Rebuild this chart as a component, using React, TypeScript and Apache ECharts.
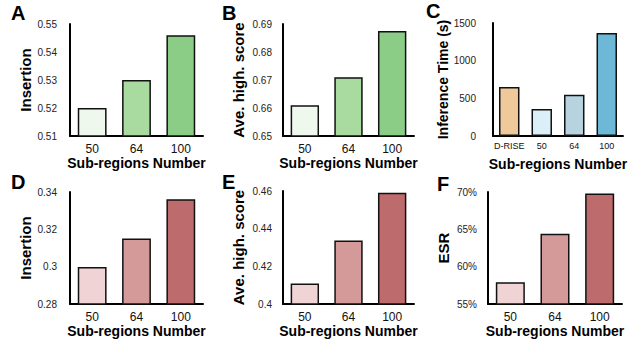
import React, { useEffect, useRef } from "react";
import * as echarts from "echarts";

const subRegions = ["50", "64", "100"];
const timeCategories = ["D-RISE", "50", "64", "100"];

const insertionA = [0.52, 0.53, 0.546];
const aveHighB = [0.661, 0.671, 0.6875];
const inferenceTimeC = [652, 359, 546, 1367];
const insertionD = [0.2998, 0.3151, 0.3361];
const aveHighE = [0.4109, 0.4337, 0.4591];
const esrF = [57.9, 64.4, 69.8];

const greens = ["#EEF8EC", "#A9DBA1", "#8BCD87"];
const reds = ["#F0D3D5", "#D49A99", "#BE6B6D"];
const blues = ["#EFC999", "#DAEFF7", "#B7D3DF", "#6CB8D6"];

const panelLetters = ["A", "B", "C", "D", "E", "F"];

const FONT = "'Liberation Sans', Arial, sans-serif";

export default function App() {
  const ref = useRef<HTMLDivElement>(null);

  useEffect(() => {
    if (!ref.current) return;
    const chart = echarts.init(ref.current, undefined, { renderer: "svg" });

    const grids = [
      { left: 70, top: 24, width: 133, height: 112 },
      { left: 283, top: 24, width: 131, height: 112 },
      { left: 493, top: 23, width: 130, height: 113 },
      { left: 70, top: 192, width: 133, height: 112 },
      { left: 283, top: 191, width: 131, height: 113 },
      { left: 488, top: 192, width: 134, height: 112 },
    ];

    const yConf = [
      { min: 0.51, max: 0.55, interval: 0.01, name: "Insertion", margin: 13, fmt: (v: number) => String(+v.toFixed(2)) },
      { min: 0.65, max: 0.69, interval: 0.01, name: "Ave. high. score", margin: 11, fmt: (v: number) => String(+v.toFixed(2)) },
      { min: 0, max: 1500, interval: 500, name: "Inference Time (s)", margin: 17, fmt: (v: number) => String(v) },
      { min: 0.28, max: 0.34, interval: 0.02, name: "Insertion", margin: 13, fmt: (v: number) => String(+v.toFixed(2)) },
      { min: 0.4, max: 0.46, interval: 0.02, name: "Ave. high. score", margin: 11, fmt: (v: number) => String(+v.toFixed(2)) },
      { min: 55, max: 70, interval: 5, name: "ESR", margin: 11, fmt: (v: number) => v + "%" },
    ];

    const xCats = [subRegions, subRegions, timeCategories, subRegions, subRegions, subRegions];
    const datas = [insertionA, aveHighB, inferenceTimeC, insertionD, aveHighE, esrF];
    const palettes = [greens, greens, blues, reds, reds, reds];

    const letterPos = [
      [11, 3], [222, 3], [426, 1], [11, 172], [222, 172], [437, 174],
    ];

    const option: any = {
      animation: false,
      backgroundColor: "#ffffff",
      textStyle: { fontFamily: FONT },
      title: panelLetters.map((t, i) => ({
        text: t,
        left: letterPos[i][0],
        top: letterPos[i][1],
        padding: 0,
        textStyle: { fontSize: 20, fontWeight: "bold", color: "#000", fontFamily: FONT },
      })),
      grid: grids,
      xAxis: xCats.map((cats, i) => ({
        type: "category",
        gridIndex: i,
        data: cats,
        name: "Sub-regions Number",
        nameLocation: "middle",
        nameGap: i === 2 ? 21 : 17,
        nameTextStyle: { fontSize: 14, fontWeight: "bold", color: "#000", fontFamily: FONT },
        axisLine: { show: true, lineStyle: { color: "#000", width: 2 } },
        axisTick: { show: false },
        axisLabel: {
          fontSize: i === 2 ? 9 : 12,
          color: "#111",
          margin: i === 2 ? 5 : 7,
          fontFamily: FONT,
          interval: 0,
        },
        splitLine: { show: false },
      })),
      yAxis: yConf.map((c, i) => ({
        type: "value",
        gridIndex: i,
        min: c.min,
        max: c.max,
        interval: c.interval,
        name: c.name,
        nameLocation: "middle",
        nameGap: 37,
        nameTextStyle: { fontSize: i === 2 ? 14 : 15, fontWeight: "bold", color: "#000", fontFamily: FONT },
        axisLine: { show: true, lineStyle: { color: "#000", width: 2 } },
        axisTick: { show: false },
        splitLine: { show: false },
        axisLabel: {
          fontSize: 10,
          color: "#222",
          margin: c.margin,
          fontFamily: FONT,
          formatter: c.fmt,
        },
      })),
      series: datas.map((d, i) => ({
        type: "bar",
        xAxisIndex: i,
        yAxisIndex: i,
        barCategoryGap: i === 2 ? "37%" : "35%",
        data: d.map((v, j) => ({
          value: v,
          itemStyle: { color: palettes[i][j], borderColor: "#111", borderWidth: 1.5 },
        })),
      })),
    };

    chart.setOption(option);
    return () => chart.dispose();
  }, []);

  return (
    <div
      ref={ref}
      style={{ position: "fixed", left: 0, top: 0, width: 631, height: 339, background: "#fff" }}
    />
  );
}
